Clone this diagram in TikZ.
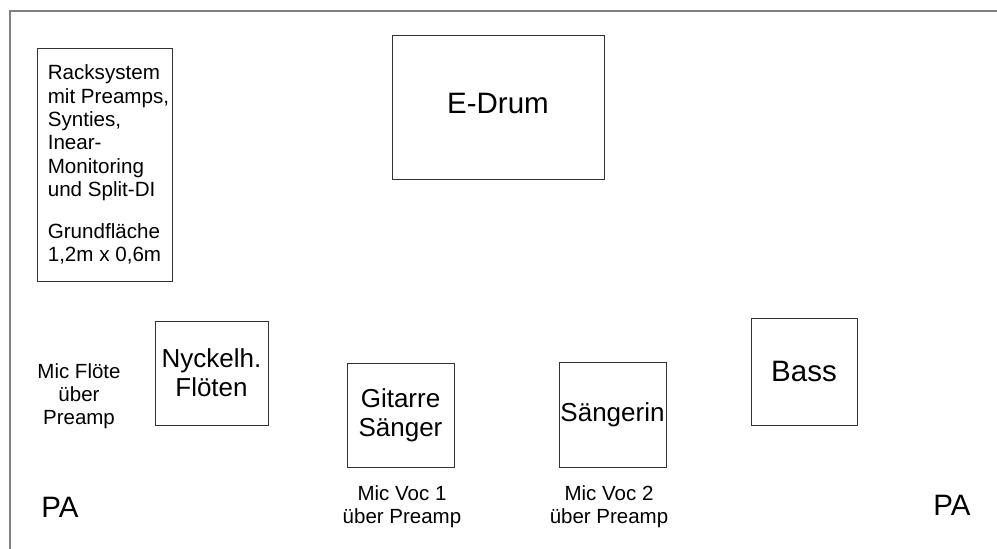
\documentclass[tikz,border=0pt]{standalone}
\usepackage{fontspec}
\setmainfont{Liberation Sans}
\usepackage{tikz}

\begin{document}
\begin{tikzpicture}[x=1pt,y=-1pt,
	box/.style={draw=black!80, line width=0.8pt, inner sep=0pt, align=center},
	big/.style={font=\fontsize{26}{29}\selectfont},
	huge/.style={font=\fontsize{29.5}{32}\selectfont},
	small/.style={font=\fontsize{20.5}{23.3}\selectfont, align=center}]
	\useasboundingbox (0,0) rectangle (997,549);
	\draw[black!50, line width=1.6pt] (10,549) -- (10,11) -- (997,11);
	\node[box, minimum width=135, minimum height=233] (rack) at (104.5,164.5) {};
	\node[anchor=west, inner sep=0pt, align=left, font=\fontsize{20.6}{23.4}\selectfont]
		(racktext) at ([xshift=11pt]rack.west)
		{Racksystem\\mit Preamps,\\Synties,\\Inear-\\Monitoring\\und Split-DI\\[18pt]Grundfläche\\1,2m x 0,6m};
	\node[box, huge, minimum width=212, minimum height=144] (drum) at (498,107) {\raisebox{8pt}{E-Drum}};
	\node[box, big, minimum width=113, minimum height=104] (floete) at (211.5,373) {Nyckelh.\\Flöten};
	\node[box, big, minimum width=107, minimum height=104] (gitarre) at (400.5,415) {Gitarre\\Sänger};
	\node[box, big, minimum width=107, minimum height=105] (saengerin) at (612.5,414.5) {Sängerin};
	\node[box, huge, minimum width=106, minimum height=107] (bass) at (804,371.5) {Bass};
	\node[small] (micfl) at (79,396) {Mic Flöte\\über\\Preamp};
	\node[small] (voc1) at (402,507) {Mic Voc 1\\über Preamp};
	\node[small] (voc2) at (609,507) {Mic Voc 2\\über Preamp};
	\node[huge] (pal) at (60,507) {PA};
	\node[huge] (par) at (952,505) {PA};
\end{tikzpicture}
\end{document}
